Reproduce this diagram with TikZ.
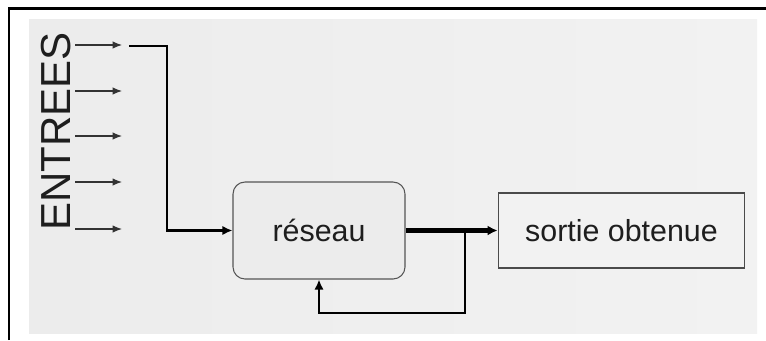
\documentclass[tikz,border=0pt]{standalone}
\usepackage{fontspec}
\setmainfont{Liberation Sans}
\usetikzlibrary{arrows.meta}
\definecolor{panelL}{HTML}{ECECEC}
\definecolor{panelR}{HTML}{F2F2F2}
\definecolor{ink}{HTML}{1E1E1E}
\definecolor{boxline}{HTML}{555555}
\definecolor{thinline}{HTML}{333333}
\tikzset{
  inarrow/.style={draw=thinline, line width=0.8pt, -{Latex[length=7pt,width=5.5pt]}},
  thickarrow/.style={draw=black, line width=2.2pt, -{Latex[length=7.5pt,width=7pt]}},
  heavyarrow/.style={draw=black, line width=3.4pt, -{Latex[length=7.5pt,width=7.5pt]}},
  netbox/.style={draw=boxline, line width=0.8pt, rounded corners=9pt, fill=panelL,
    minimum width=129pt, minimum height=72.75pt, font=\fontsize{22.8}{26}\selectfont, text=ink},
  outbox/.style={draw=ink!80, line width=0.9pt, fill=panelR,
    minimum width=185pt, minimum height=56.25pt, font=\fontsize{22.8}{26}\selectfont, text=ink},
  label/.style={font=\fontsize{31.5}{34}\selectfont, text=ink, inner sep=0pt}
}
\begin{document}
\begin{tikzpicture}[x=0.75pt,y=-0.75pt]
  \useasboundingbox (0,0) rectangle (766,340);
  % white page with a grey panel and a black frame on the top and left sides
  \fill[white] (0,0) rectangle (766,340);
  \fill[left color=panelL, right color=panelR] (29,19) rectangle (757,333);
  \draw[black, line width=1.6pt] (9,340) -- (9,8.5) -- (766,8.5);

  % input label
  \node[label, rotate=90] (entrees) at (56.5,131.5) {ENTREES};

  % input arrows
  \foreach \i/\y in {1/45,2/91,3/136,4/182,5/229}{
    \coordinate (in\i s) at (75,\y);
    \coordinate (in\i e) at (122,\y);
    \draw[inarrow] (in\i s) -- (in\i e);
  }

  % blocks
  \node[netbox] (reseau) at (319,230.5) {réseau};
  \node[outbox] (sortie) at (621.5,230.5) {sortie obtenue};

  % input bus into the network
  \coordinate (bus) at (129,46);
  \coordinate (bend) at (167,230.5);
  \draw[thickarrow] (bus) -| (bend) -- (reseau.west);

  % network output
  \draw[heavyarrow] (reseau.east) -- (sortie.west);

  % feedback loop
  \coordinate (tap) at (465,230.5);
  \coordinate (back) at (319,313);
  \draw[thickarrow] (tap) |- (back) -- (reseau.south);
\end{tikzpicture}
\end{document}
